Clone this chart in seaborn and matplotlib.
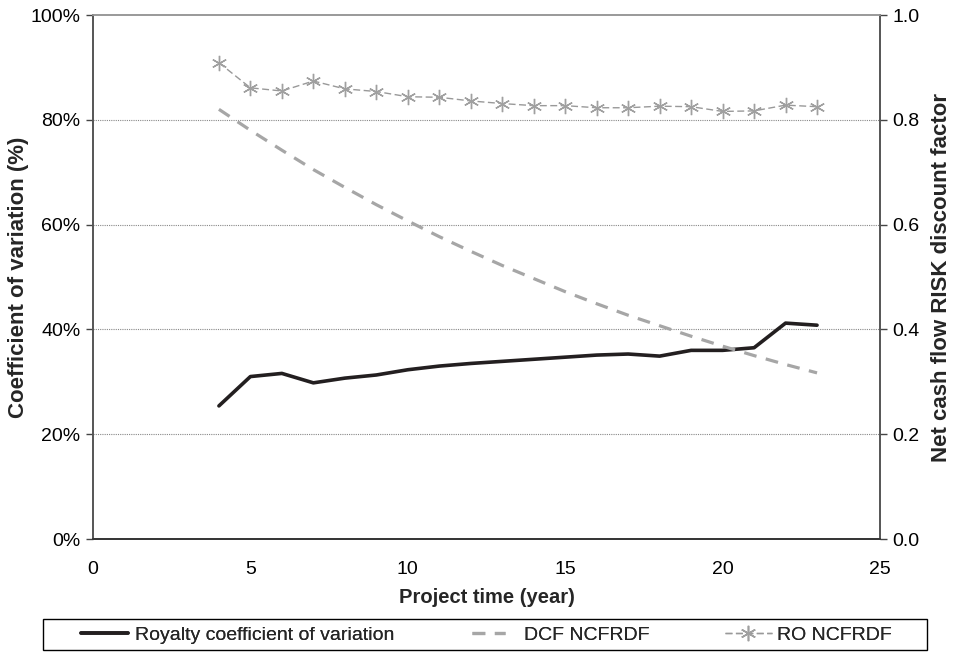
import numpy as np
import pandas as pd
import matplotlib
matplotlib.use("Agg")
import matplotlib.pyplot as plt
from matplotlib.patches import Rectangle
from matplotlib.ticker import PercentFormatter, FormatStrFormatter
import seaborn as sns

# ---- data ----
years = list(range(4, 24))
royalty_cv = [25.4, 31.0, 31.6, 29.8, 30.7, 31.3, 32.3, 33.0, 33.5, 33.9,
              34.3, 34.7, 35.1, 35.3, 34.9, 36.0, 36.0, 36.5, 41.2, 40.8]
dcf_ncfrdf = [0.820, 0.780, 0.742, 0.705, 0.671, 0.638, 0.607, 0.577, 0.549, 0.522,
              0.497, 0.472, 0.449, 0.427, 0.407, 0.387, 0.368, 0.350, 0.333, 0.317]
ro_ncfrdf = [0.909, 0.861, 0.855, 0.874, 0.859, 0.854, 0.844, 0.843, 0.836, 0.831,
             0.827, 0.827, 0.823, 0.823, 0.826, 0.825, 0.816, 0.817, 0.828, 0.825]

df = pd.DataFrame({"year": years, "royalty": royalty_cv,
                   "dcf": dcf_ncfrdf, "ro": ro_ncfrdf})

sns.set_style("white")
plt.rcParams["font.family"] = ["Liberation Sans", "DejaVu Sans"]

W, H = 956, 652
fig = plt.figure(figsize=(9.56, 6.52), dpi=100)
ax = fig.add_axes([93 / W, 1 - 539 / H, 787 / W, 524 / H])
ax2 = ax.twinx()

# left axis: royalty CV
sns.lineplot(data=df, x="year", y="royalty", ax=ax, color="#231f20",
             linewidth=2.6, legend=False)

# right axis: discount factors
sns.lineplot(data=df, x="year", y="dcf", ax=ax2, color="#a6a6a6",
             linewidth=2.3, legend=False)
ax2.lines[-1].set_dashes([4, 3])
sns.lineplot(data=df, x="year", y="ro", ax=ax2, color="#999999",
             linewidth=1.0, marker=(6, 2, 0), markersize=11, markeredgewidth=1.0,
             markeredgecolor="#a0a0a0", legend=False)
ax2.lines[-1].set_dashes([5, 2.5])

ax.set_xlim(0, 25)
ax.set_ylim(0, 100)
ax2.set_ylim(0, 1.0)
ax.set_xticks(range(0, 26, 5))
ax.set_yticks(range(0, 101, 20))
ax2.set_yticks(np.arange(0, 1.01, 0.2))
ax.yaxis.set_major_formatter(PercentFormatter(decimals=0))
ax2.yaxis.set_major_formatter(FormatStrFormatter("%.1f"))

for y in [20, 40, 60, 80]:
    ax.axhline(y, color="#888888", linewidth=0.8, linestyle=(0, (1, 1)), zorder=0)

for a in (ax, ax2):
    a.tick_params(axis="both", labelsize=14, direction="out", length=5,
                  width=1, colors="#444444", labelcolor="black")
    for s in a.spines.values():
        s.set_color("#555555")
        s.set_linewidth(1.2)
    a.spines["top"].set_color("#999999")
    a.spines["bottom"].set_color("#333333")
ax.tick_params(axis="x", length=4, pad=12)
ax.tick_params(axis="y", pad=4)
ax2.tick_params(axis="y", pad=4)

ax.set_xlabel("Project time (year)", fontsize=14.5, fontweight="bold", labelpad=7)
ax.set_ylabel("Coefficient of variation (%)", fontsize=16, fontweight="bold", labelpad=1)
ax2.set_ylabel("Net cash flow RISK discount factor", fontsize=16, fontweight="bold", labelpad=8)

# legend box spanning the bottom, entries placed like the original
fig.patches.append(Rectangle((43 / W, 1 - 650 / H), 884 / W, 31 / H,
                             transform=fig.transFigure, fill=False,
                             edgecolor="black", linewidth=1.0))
entries = [
    (ax.get_lines()[0], "Royalty coefficient of variation", 81, 2.4, 0.36),
    (ax2.get_lines()[0], "DCF NCFRDF", 472, 1.7, 1.0),
    (ax2.get_lines()[1], "RO NCFRDF", 725, 2.4, 0.26),
]
for handle, label, xpix, hl, pad in entries:
    leg = fig.legend([handle], [label], loc="center left",
                     bbox_to_anchor=(xpix / W, 1 - 635 / H), fontsize=14,
                     frameon=False, handlelength=hl, handletextpad=pad,
                     borderpad=0, borderaxespad=0)
    fig.add_artist(leg)

fig.savefig("out.png", dpi=100)
